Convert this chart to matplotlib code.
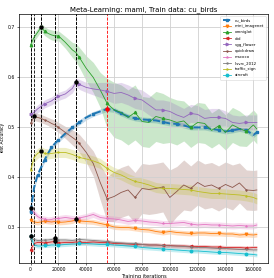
import numpy as np
import matplotlib.pyplot as plt

# evaluation iterations
iters = [0, 2500, 5000, 7500, 10000, 12500, 15000, 17500, 20000, 25000, 30000, 32500, 35000,
         40000, 45000, 50000, 55000, 60000, 65000, 70000, 75000, 80000, 85000, 90000, 95000,
         100000, 105000, 110000, 115000, 120000, 125000, 130000, 135000, 140000, 145000,
         150000, 155000, 160000, 162500]

cu_birds = [0.33, 0.38, 0.405, 0.42, 0.435, 0.448, 0.46, 0.468, 0.475, 0.488, 0.50, 0.505, 0.51,
            0.52, 0.527, 0.532, 0.537, 0.535, 0.528, 0.522, 0.518, 0.516, 0.515, 0.514, 0.511,
            0.508, 0.507, 0.504, 0.50, 0.50, 0.50, 0.497, 0.495, 0.492, 0.494, 0.497, 0.494, 0.485, 0.49]
mini_imagenet = [0.314, 0.311, 0.31, 0.311, 0.313, 0.312, 0.311, 0.312, 0.31, 0.311, 0.313, 0.316, 0.313,
                 0.312, 0.311, 0.308, 0.305, 0.301, 0.3, 0.3, 0.298, 0.296, 0.295, 0.292, 0.29,
                 0.292, 0.29, 0.289, 0.288, 0.289, 0.289, 0.288, 0.288, 0.287, 0.287, 0.285, 0.286, 0.285, 0.286]
omniglot = [0.665, 0.68, 0.69, 0.70, 0.693, 0.688, 0.685, 0.683, 0.683, 0.67, 0.655, 0.65, 0.64,
            0.618, 0.60, 0.575, 0.548, 0.535, 0.53, 0.52, 0.53, 0.512, 0.51, 0.522, 0.518,
            0.515, 0.51, 0.513, 0.50, 0.51, 0.508, 0.494, 0.503, 0.49, 0.505, 0.498, 0.492, 0.505, 0.497]
dtd = [0.255, 0.268, 0.27, 0.27, 0.269, 0.27, 0.271, 0.272, 0.269, 0.27, 0.27, 0.271, 0.27,
       0.27, 0.271, 0.27, 0.27, 0.268, 0.268, 0.267, 0.266, 0.266, 0.265, 0.265, 0.264,
       0.264, 0.263, 0.263, 0.262, 0.262, 0.262, 0.261, 0.261, 0.26, 0.26, 0.26, 0.259, 0.26, 0.26]
vgg_flower = [0.526, 0.53, 0.537, 0.542, 0.547, 0.55, 0.553, 0.558, 0.562, 0.567, 0.578, 0.59, 0.586,
              0.58, 0.577, 0.575, 0.572, 0.568, 0.57, 0.565, 0.558, 0.555, 0.545, 0.535, 0.535,
              0.532, 0.525, 0.52, 0.528, 0.526, 0.518, 0.52, 0.52, 0.518, 0.51, 0.508, 0.51, 0.51, 0.51]
quickdraw = [0.508, 0.522, 0.52, 0.518, 0.515, 0.512, 0.508, 0.505, 0.5, 0.49, 0.48, 0.475, 0.468,
             0.45, 0.428, 0.39, 0.357, 0.362, 0.37, 0.375, 0.36, 0.378, 0.376, 0.378, 0.381,
             0.36, 0.372, 0.385, 0.378, 0.39, 0.382, 0.385, 0.378, 0.386, 0.38, 0.389, 0.375, 0.374, 0.375]
mscoco = [0.338, 0.33, 0.322, 0.318, 0.317, 0.315, 0.316, 0.318, 0.318, 0.32, 0.318, 0.318, 0.319,
          0.322, 0.326, 0.32, 0.318, 0.317, 0.315, 0.312, 0.314, 0.313, 0.311, 0.31, 0.308,
          0.308, 0.309, 0.31, 0.307, 0.305, 0.306, 0.305, 0.305, 0.304, 0.303, 0.304, 0.303, 0.303, 0.305]
ilsvrc_2012 = [0.276, 0.276, 0.274, 0.274, 0.275, 0.275, 0.276, 0.278, 0.275, 0.275, 0.274, 0.275, 0.276,
               0.275, 0.274, 0.273, 0.272, 0.27, 0.269, 0.268, 0.268, 0.266, 0.265, 0.265, 0.264,
               0.263, 0.263, 0.262, 0.261, 0.26, 0.26, 0.259, 0.258, 0.258, 0.257, 0.256, 0.256, 0.255, 0.255]
traffic_sign = [0.415, 0.44, 0.448, 0.452, 0.448, 0.447, 0.448, 0.449, 0.45, 0.45, 0.446, 0.443, 0.44,
                0.437, 0.433, 0.428, 0.418, 0.41, 0.405, 0.398, 0.392, 0.389, 0.385, 0.38, 0.378,
                0.378, 0.377, 0.376, 0.375, 0.372, 0.37, 0.368, 0.368, 0.367, 0.366, 0.365, 0.363, 0.36, 0.357]
aircraft = [0.282, 0.265, 0.263, 0.263, 0.264, 0.264, 0.265, 0.265, 0.265, 0.266, 0.267, 0.267, 0.268,
            0.268, 0.267, 0.266, 0.266, 0.265, 0.264, 0.263, 0.262, 0.26, 0.259, 0.258, 0.257,
            0.256, 0.255, 0.254, 0.253, 0.253, 0.252, 0.251, 0.25, 0.25, 0.249, 0.248, 0.247, 0.246, 0.245]

# spread (std) around each curve
omniglot_std = [0.008, 0.008, 0.008, 0.008, 0.009, 0.009, 0.01, 0.01, 0.01, 0.012, 0.015, 0.018, 0.02,
                0.025, 0.03, 0.035, 0.05, 0.055, 0.055, 0.055, 0.055, 0.05, 0.05, 0.05, 0.05,
                0.045, 0.045, 0.04, 0.04, 0.04, 0.04, 0.035, 0.035, 0.035, 0.035, 0.035, 0.03, 0.03, 0.03]
quickdraw_std = [0.008, 0.008, 0.008, 0.008, 0.008, 0.008, 0.009, 0.01, 0.01, 0.012, 0.015, 0.016, 0.018,
                 0.02, 0.025, 0.035, 0.045, 0.05, 0.05, 0.05, 0.05, 0.05, 0.05, 0.05, 0.05,
                 0.055, 0.05, 0.05, 0.045, 0.045, 0.045, 0.045, 0.045, 0.045, 0.045, 0.04, 0.04, 0.04, 0.04]
vgg_std = [0.008, 0.008, 0.008, 0.008, 0.008, 0.008, 0.008, 0.008, 0.008, 0.008, 0.009, 0.009, 0.01,
           0.01, 0.012, 0.015, 0.018, 0.02, 0.02, 0.02, 0.02, 0.02, 0.02, 0.02, 0.02,
           0.02, 0.02, 0.018, 0.018, 0.018, 0.018, 0.018, 0.018, 0.015, 0.015, 0.015, 0.015, 0.015, 0.015]

names = ['cu_birds', 'mini_imagenet', 'omniglot', 'dtd', 'vgg_flower', 'quickdraw',
         'mscoco', 'ilsvrc_2012', 'traffic_sign', 'aircraft']
curves = [cu_birds, mini_imagenet, omniglot, dtd, vgg_flower, quickdraw,
          mscoco, ilsvrc_2012, traffic_sign, aircraft]
stds = [0.005, 0.005, omniglot_std, 0.004, vgg_std, quickdraw_std, 0.006, 0.004, 0.01, 0.004]
markers = ['s', 'v', '^', '<', '>', '1', '2', '3', '4', 'o']
train_name = 'cu_birds'

fig = plt.figure(figsize=(2.74, 2.78), dpi=100)
ax = fig.add_axes([0.071, 0.054, 0.907, 0.896])

x = np.array(iters)
for i, (name, y, s) in enumerate(zip(names, curves, stds)):
    y = np.array(y)
    s = np.array(s) * np.ones_like(y)
    c = 'C%d' % i
    if name == train_name:
        ax.plot(x, y, '--', color=c, lw=1.4, marker=markers[i], ms=1.8, markevery=2, label=name, zorder=3)
    else:
        ax.plot(x, y, '-', color=c, lw=0.6, marker=markers[i], ms=1.8, markevery=4, label=name, zorder=3)
    ax.fill_between(x, y - s, y + s, color=c, alpha=0.25, lw=0)

    # best point of each curve
    k = int(np.argmax(y))
    vc = 'red' if name == train_name else 'black'
    ax.axvline(x[k], color=vc, ls='--', lw=0.6, zorder=2)
    ax.plot(x[k], y[k], 'o', color=vc, ms=2.2, zorder=4)

ax.set_xlim(-8000, 170500)
ax.set_ylim(0.229, 0.727)
ax.set_xticks(np.arange(0, 160001, 20000))
ax.set_yticks([0.3, 0.4, 0.5, 0.6, 0.7])
ax.grid(True, color='#d0d0d0', lw=0.6)
ax.tick_params(labelsize=3.3, length=1.5, width=0.4, pad=1.5)
for sp in ax.spines.values():
    sp.set_linewidth(0.5)

ax.set_title("Meta-Learning: maml, Train data: cu_birds", fontsize=5, pad=2)
ax.set_xlabel("Training iterations", fontsize=3.6, labelpad=1)
ax.set_ylabel("Test Accuracy", fontsize=3.3, labelpad=2)
ax.legend(loc='upper right', fontsize=2.8, framealpha=0.8, borderpad=0.6, labelspacing=0.55,
          handlelength=2.2, edgecolor='#cccccc').get_frame().set_linewidth(0.4)

plt.savefig("out.png", dpi=100)
